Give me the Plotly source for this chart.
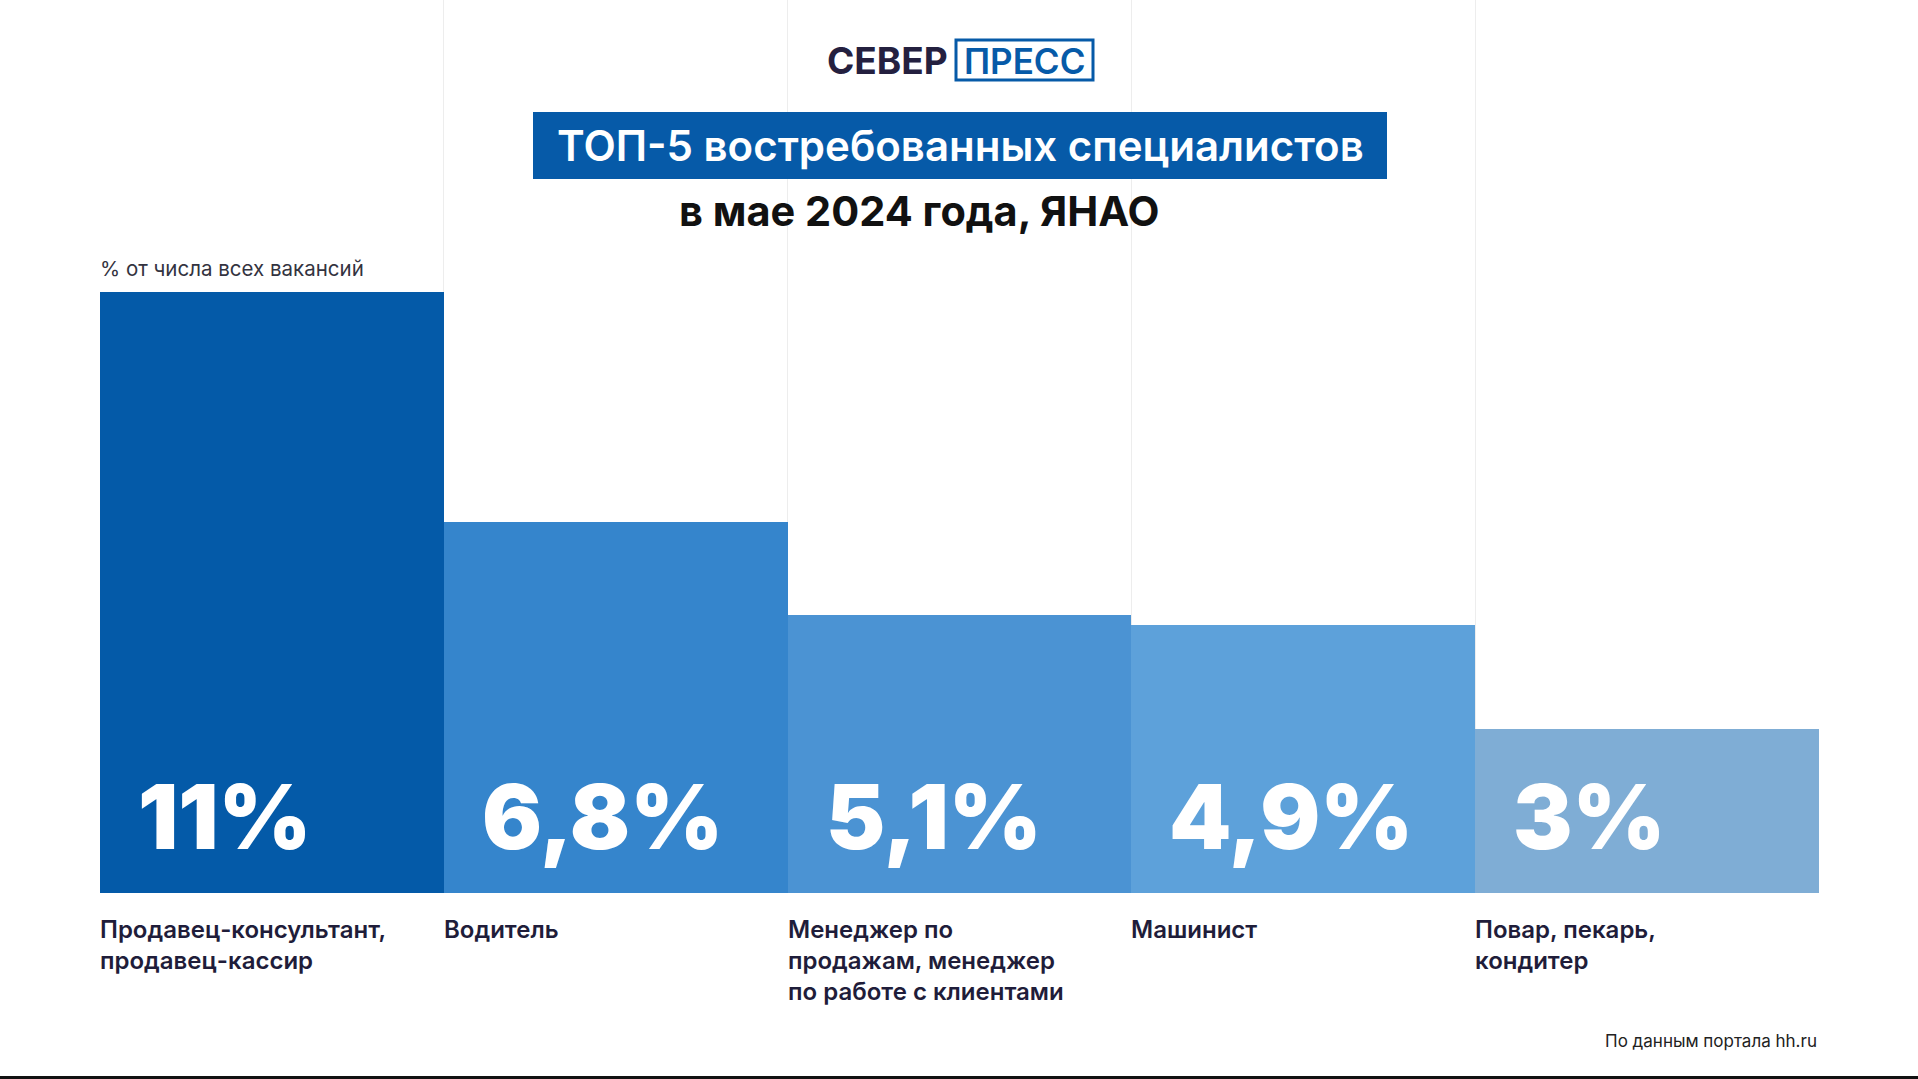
import plotly.graph_objects as go

# ---- data ----
categories = [
    "Продавец-консультант,<br>продавец-кассир",
    "Водитель",
    "Менеджер по<br>продажам, менеджер<br>по работе с клиентами",
    "Машинист",
    "Повар, пекарь,<br>кондитер",
]
values = [11, 6.8, 5.1, 4.9, 3]
value_labels = ["11%", "6,8%", "5,1%", "4,9%", "3%"]
bar_colors = ["#045AA8", "#3585CC", "#4B93D3", "#5DA1DA", "#7FADD5"]

W, H = 1918, 1079
ML, MR, MT, MB = 100, 99, 0, 186
PH = H - MT - MB


def px(x):
    return (x - ML) / (W - ML - MR)


def py(y):
    return (H - MB - y) / PH


FONT = "Inter"
NAVY = "#1f1d3a"
BLUE = "#065AA8"

xs = list(range(len(values)))

fig = go.Figure(
    go.Bar(
        x=xs,
        y=values,
        marker=dict(color=bar_colors, line=dict(width=0)),
        width=1.0,
        hoverinfo="skip",
    )
)

annotations = []
# value labels inside bars
for i, lab in enumerate(value_labels):
    annotations.append(dict(
        x=xs[i] - 0.5, xref="x", xanchor="left", xshift=36,
        y=py(816), yref="paper", yanchor="middle",
        text=lab, showarrow=False,
        font=dict(family=FONT, size=89, color="white", weight=900),
    ))
# category labels below bars
for i, cat in enumerate(categories):
    annotations.append(dict(
        x=xs[i] - 0.5, xref="x", xanchor="left", xshift=-2,
        y=py(913), yref="paper", yanchor="top",
        text=cat, showarrow=False, align="left",
        font=dict(family=FONT, size=24, color=NAVY, weight=600),
    ))

# axis caption
annotations.append(dict(
    x=px(100), xref="paper", xanchor="left", xshift=-2,
    y=py(268), yref="paper", yanchor="middle",
    text="% от числа всех вакансий", showarrow=False,
    font=dict(family=FONT, size=20.5, color="#333340"),
))
# title in box
annotations.append(dict(
    x=px(960), xref="paper", xanchor="center",
    y=py(146), yref="paper", yanchor="middle",
    text="ТОП-5 востребованных специалистов", showarrow=False,
    font=dict(family=FONT, size=42, color="white", weight=600),
))
# subtitle
annotations.append(dict(
    x=px(919), xref="paper", xanchor="center",
    y=py(211), yref="paper", yanchor="middle",
    text="в мае 2024 года, ЯНАО", showarrow=False,
    font=dict(family=FONT, size=41.5, color="#111111", weight=700),
))
# logo
annotations.append(dict(
    x=px(950), xref="paper", xanchor="right",
    y=py(61), yref="paper", yanchor="middle",
    text="СЕВЕР", showarrow=False,
    font=dict(family=FONT, size=37, color="#24203f", weight=700),
))
annotations.append(dict(
    x=px(1024.5), xref="paper", xanchor="center",
    y=py(61), yref="paper", yanchor="middle",
    text="ПРЕСС", showarrow=False,
    font=dict(family=FONT, size=35, color=BLUE, weight=600),
))
# footer
annotations.append(dict(
    x=px(1819), xref="paper", xanchor="right",
    y=py(1041), yref="paper", yanchor="middle",
    text="По данным портала hh.ru", showarrow=False,
    font=dict(family=FONT, size=17, color="#222222"),
))

shapes = [
    dict(type="rect", xref="paper", yref="paper",
         x0=px(533), x1=px(1387), y0=py(179), y1=py(112),
         fillcolor=BLUE, line=dict(width=0), layer="above"),
    dict(type="rect", xref="paper", yref="paper",
         x0=px(956), x1=px(1093), y0=py(80), y1=py(40),
         fillcolor="rgba(0,0,0,0)", line=dict(color=BLUE, width=3),
         layer="above"),
    dict(type="line", xref="paper", yref="paper",
         x0=px(0), x1=px(W), y0=py(1077.5), y1=py(1077.5),
         line=dict(color="#111111", width=3)),
]

fig.update_layout(
    width=W, height=H,
    margin=dict(l=ML, r=MR, t=MT, b=MB),
    paper_bgcolor="white", plot_bgcolor="white",
    bargap=0,
    showlegend=False,
    xaxis=dict(
        range=[-0.5, len(values) - 0.5],
        tickvals=[i - 0.5 for i in range(len(values) + 1)],
        showticklabels=False, ticks="",
        showgrid=True, gridcolor="#ededed", gridwidth=1,
        zeroline=False, showline=False, fixedrange=True,
    ),
    yaxis=dict(
        range=[0, PH / 54.6],
        showgrid=False, zeroline=False, showticklabels=False,
        showline=False, fixedrange=True,
    ),
    annotations=annotations,
    shapes=shapes,
)

fig.write_html(
    "out.html",
    config={"displayModeBar": False},
    post_script="document.body.style.margin='0';document.body.style.overflow='hidden';",
)
